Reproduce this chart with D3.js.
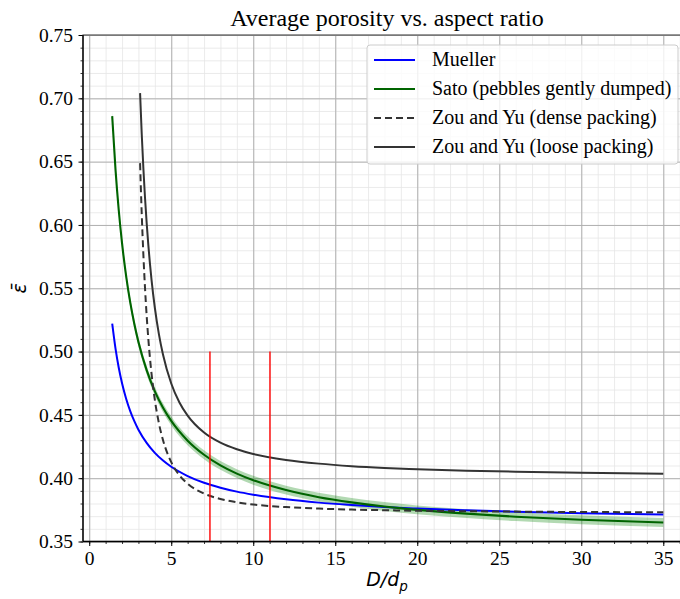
<!DOCTYPE html>
<html lang="en">
<head>
<meta charset="UTF-8">
<title>Average porosity vs. aspect ratio</title>
<style>
  body { margin: 0; background: #fff; }
  svg { display: block; }
  .tick-labels text { font-family: "Liberation Serif", "Times New Roman", serif; font-size: 19.5px; }
</style>
</head>
<body>
<script src="https://cdn.jsdelivr.net/npm/d3@7"></script>
<div id="chart"></div>
<script>
// aspect ratio samples
const ratioA = [1.4, 1.6, 1.8, 2, 2.25, 2.5, 2.75, 3, 3.5, 4, 4.5, 5, 6, 7, 8, 9, 10, 12, 14, 16, 18, 20, 23, 26, 30, 35];
const ratioB = [3.1, 3.2, 3.3, 3.4, 3.5, 3.6, 3.7, 3.8, 4, 4.25, 4.5, 5, 5.5, 6, 7, 8, 9, 10, 12, 14, 16, 18, 20, 23, 26, 30, 35];

// porosity
const mueller = [0.5221, 0.5025, 0.4872, 0.4750, 0.4628, 0.4530, 0.4450, 0.4383, 0.4279, 0.4200, 0.4139, 0.4090, 0.4017, 0.3964, 0.3925, 0.3894, 0.3870, 0.3833, 0.3807, 0.3788, 0.3772, 0.3760, 0.3746, 0.3735, 0.3723, 0.3713];
const sato = [0.6859, 0.6441, 0.6116, 0.5856, 0.5596, 0.5388, 0.5218, 0.5076, 0.4853, 0.4686, 0.4556, 0.4452, 0.4296, 0.4185, 0.4101, 0.4036, 0.3984, 0.3906, 0.3850, 0.3809, 0.3776, 0.3750, 0.3720, 0.3696, 0.3672, 0.3650];
const satoLow = [0.6824, 0.6406, 0.6081, 0.5821, 0.5561, 0.5353, 0.5183, 0.5041, 0.4818, 0.4651, 0.4521, 0.4417, 0.4261, 0.4150, 0.4066, 0.4001, 0.3949, 0.3871, 0.3815, 0.3774, 0.3741, 0.3715, 0.3685, 0.3661, 0.3637, 0.3615];
const satoHigh = [0.6894, 0.6476, 0.6151, 0.5891, 0.5631, 0.5423, 0.5253, 0.5111, 0.4888, 0.4721, 0.4591, 0.4487, 0.4331, 0.4220, 0.4136, 0.4071, 0.4019, 0.3941, 0.3885, 0.3844, 0.3811, 0.3785, 0.3755, 0.3731, 0.3707, 0.3685];
const zouDense = [0.6488, 0.6090, 0.5768, 0.5504, 0.5286, 0.5105, 0.4952, 0.4823, 0.4618, 0.4433, 0.4300, 0.4127, 0.4023, 0.3956, 0.3878, 0.3836, 0.3810, 0.3792, 0.3772, 0.3760, 0.3752, 0.3747, 0.3743, 0.3739, 0.3736, 0.3733, 0.3731];
const zouLoose = [0.7041, 0.6720, 0.6449, 0.6217, 0.6018, 0.5846, 0.5696, 0.5564, 0.5346, 0.5136, 0.4975, 0.4748, 0.4598, 0.4494, 0.4360, 0.4280, 0.4228, 0.4191, 0.4144, 0.4115, 0.4095, 0.4081, 0.4071, 0.4059, 0.4051, 0.4043, 0.4036];

// red markers
const markerX = [7.36, 11.02];
const markerY = [0.35, 0.50];

const legendNames = ["Mueller", "Sato (pebbles gently dumped)", "Zou and Yu (dense packing)", "Zou and Yu (loose packing)"];
const xTicks = [0, 5, 10, 15, 20, 25, 30, 35];
const yTicks = [0.35, 0.40, 0.45, 0.50, 0.55, 0.60, 0.65, 0.70, 0.75];

const W = 680, H = 599;
const box = { left: 83, right: 691, top: 35, bottom: 541.5 };
const serif = "Liberation Serif, Times New Roman, serif";

const svg = d3.select("#chart").append("svg")
    .attr("width", W)
    .attr("height", H);

const x = d3.scaleLinear().domain([-0.38, 36.69]).range([box.left, box.right]);
const y = d3.scaleLinear().domain([0.35, 0.75]).range([box.bottom, box.top]);

const minorX = d3.range(0, 37, 1);
const minorY = d3.range(0, 41).map(i => +(0.35 + i * 0.01).toFixed(2));
const plotH = box.bottom - box.top, plotW = box.right - box.left;

// grid: minor then major
function grid(ticksX, ticksY, color, sw) {
  svg.append("g")
      .attr("transform", `translate(0,${box.bottom})`)
      .call(d3.axisBottom(x).tickValues(ticksX).tickSize(-plotH).tickFormat(""))
      .call(g => g.select(".domain").remove())
      .call(g => g.selectAll("line").attr("stroke", color).attr("stroke-width", sw));
  svg.append("g")
      .attr("transform", `translate(${box.left},0)`)
      .call(d3.axisLeft(y).tickValues(ticksY).tickSize(-plotW).tickFormat(""))
      .call(g => g.select(".domain").remove())
      .call(g => g.selectAll("line").attr("stroke", color).attr("stroke-width", sw));
}
grid(minorX, minorY, "#e6e6e6", 0.8);
grid(xTicks, yTicks, "#b0b0b0", 1);

// plot clip
svg.append("clipPath").attr("id", "plotClip")
  .append("rect").attr("x", box.left).attr("y", box.top).attr("width", plotW).attr("height", plotH);
const plot = svg.append("g").attr("clip-path", "url(#plotClip)");

const rowsA = ratioA.map((r, i) => ({ r, m: mueller[i], s: sato[i], lo: satoLow[i], hi: satoHigh[i] }));
const rowsB = ratioB.map((r, i) => ({ r, d: zouDense[i], l: zouLoose[i] }));

plot.append("path")
    .datum(rowsA)
    .attr("fill", "green")
    .attr("fill-opacity", 0.3)
    .attr("d", d3.area().curve(d3.curveMonotoneX).x(d => x(d.r)).y0(d => y(d.lo)).y1(d => y(d.hi)));

const line = key => d3.line().curve(d3.curveMonotoneX).x(d => x(d.r)).y(d => y(d[key]));

plot.append("path").datum(rowsA)
    .attr("fill", "none").attr("stroke", "#0000ff").attr("stroke-width", 2)
    .attr("d", line("m"));
plot.append("path").datum(rowsA)
    .attr("fill", "none").attr("stroke", "#006400").attr("stroke-width", 2.1)
    .attr("d", line("s"));
plot.append("path").datum(rowsB)
    .attr("fill", "none").attr("stroke", "#333333").attr("stroke-width", 2)
    .attr("stroke-dasharray", "7,4")
    .attr("d", line("d"));
plot.append("path").datum(rowsB)
    .attr("fill", "none").attr("stroke", "#333333").attr("stroke-width", 2)
    .attr("d", line("l"));

plot.selectAll(".marker").data(markerX).enter().append("line")
    .attr("x1", d => x(d)).attr("x2", d => x(d))
    .attr("y1", y(markerY[0])).attr("y2", y(markerY[1]))
    .attr("stroke", "red").attr("stroke-width", 1.4);

// axes with major + minor ticks
svg.append("g")
    .attr("transform", `translate(0,${box.bottom})`)
    .call(d3.axisBottom(x).tickValues(minorX).tickSize(2.5).tickFormat(""))
    .call(g => g.select(".domain").remove())
    .call(g => g.selectAll("line").attr("stroke", "#000").attr("stroke-width", 0.8));
svg.append("g")
    .attr("transform", `translate(${box.left},0)`)
    .call(d3.axisLeft(y).tickValues(minorY).tickSize(2.5).tickFormat(""))
    .call(g => g.select(".domain").remove())
    .call(g => g.selectAll("line").attr("stroke", "#000").attr("stroke-width", 0.8));
svg.append("g")
    .attr("class", "tick-labels")
    .attr("transform", `translate(0,${box.bottom})`)
    .call(d3.axisBottom(x).tickValues(xTicks).tickSize(4.5).tickPadding(5.2).tickFormat(d3.format("d")))
    .attr("font-family", serif).attr("font-size", 19.5)
    .call(g => g.select(".domain").remove())
    .call(g => g.selectAll("line").attr("stroke", "#000").attr("stroke-width", 1))
    .call(g => g.selectAll("text").attr("fill", "#000"));
svg.append("g")
    .attr("class", "tick-labels")
    .attr("transform", `translate(${box.left},0)`)
    .call(d3.axisLeft(y).tickValues(yTicks).tickSize(4.5).tickPadding(5.5).tickFormat(d3.format(".2f")))
    .attr("font-family", serif).attr("font-size", 19.5)
    .call(g => g.select(".domain").remove())
    .call(g => g.selectAll("line").attr("stroke", "#000").attr("stroke-width", 1))
    .call(g => g.selectAll("text").attr("fill", "#000"));

// frame
svg.append("rect")
    .attr("x", box.left).attr("y", box.top)
    .attr("width", plotW).attr("height", plotH)
    .attr("fill", "none").attr("stroke", "#555").attr("stroke-width", 1.2);
svg.append("line")
    .attr("x1", box.left).attr("x2", box.right).attr("y1", box.bottom).attr("y2", box.bottom)
    .attr("stroke", "#000").attr("stroke-width", 1.3);
svg.append("line")
    .attr("x1", box.left).attr("x2", box.left).attr("y1", box.top).attr("y2", box.bottom)
    .attr("stroke", "#000").attr("stroke-width", 1.3);

// title and labels
svg.append("text")
    .attr("x", (box.left + box.right) / 2).attr("y", 26)
    .attr("text-anchor", "middle")
    .attr("font-family", serif).attr("font-size", 24)
    .text("Average porosity vs. aspect ratio");

const xl = svg.append("text")
    .attr("x", (box.left + box.right) / 2).attr("y", 586)
    .attr("text-anchor", "middle")
    .attr("font-family", "DejaVu Sans, sans-serif").attr("font-style", "italic").attr("font-size", 19);
xl.append("tspan").text("D/d");
xl.append("tspan").attr("dy", 5).attr("font-size", 13.5).text("p");

svg.append("text")
    .attr("transform", `translate(26,${(box.top + box.bottom) / 2}) rotate(-90)`)
    .attr("text-anchor", "middle")
    .attr("font-family", "DejaVu Sans, sans-serif").attr("font-style", "italic").attr("font-size", 19)
    .text("\u03B5\u0304");

// legend
const lg = svg.append("g").attr("transform", "translate(367,45)");
lg.append("rect")
    .attr("width", 311).attr("height", 119).attr("rx", 3)
    .attr("fill", "#fff").attr("fill-opacity", 0.8)
    .attr("stroke", "#cccccc").attr("stroke-width", 1);
const legStyle = [
  { color: "#0000ff", dash: null },
  { color: "#006400", dash: null },
  { color: "#333333", dash: "7,4" },
  { color: "#333333", dash: null }
];
legendNames.forEach((name, i) => {
  const yy = 15 + i * 29;
  lg.append("line")
    .attr("x1", 7).attr("x2", 48).attr("y1", yy).attr("y2", yy)
    .attr("stroke", legStyle[i].color).attr("stroke-width", 2)
    .attr("stroke-dasharray", legStyle[i].dash);
  lg.append("text")
    .attr("x", 65).attr("y", yy + 6)
    .attr("font-family", serif).attr("font-size", 20)
    .text(name);
});
</script>
</body>
</html>
